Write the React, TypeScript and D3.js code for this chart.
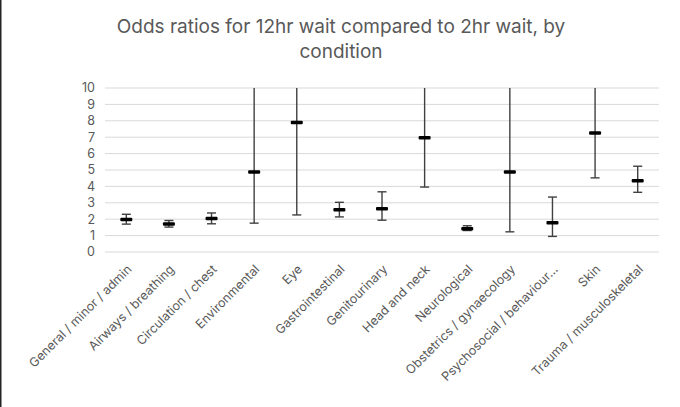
import React, { useEffect, useRef } from 'react';
import * as d3 from 'd3';

const categories = [
  'General / minor / admin',
  'Airways / breathing',
  'Circulation / chest',
  'Environmental',
  'Eye',
  'Gastrointestinal',
  'Genitourinary',
  'Head and neck',
  'Neurological',
  'Obstetrics / gynaecology',
  'Psychosocial / behaviour…',
  'Skin',
  'Trauma / musculoskeletal',
];

// point estimates and confidence bounds (upper bounds above 10 run off the axis)
const oddsRatio = [1.98, 1.7, 2.04, 4.88, 7.9, 2.58, 2.64, 6.97, 1.42, 4.88, 1.78, 7.25, 4.34];
const lowerCI = [1.7, 1.52, 1.72, 1.76, 2.26, 2.14, 1.94, 3.96, 1.31, 1.23, 0.95, 4.52, 3.64];
const upperCI = [2.3, 1.92, 2.38, 13.5, 27.0, 3.03, 3.67, 12.3, 1.6, 19.0, 3.35, 11.6, 5.23];

const yTicks = [0, 1, 2, 3, 4, 5, 6, 7, 8, 9, 10];

const titleLines = ['Odds ratios for 12hr wait compared to 2hr wait, by', 'condition'];

const W = 680;
const H = 407;

const OddsChart: React.FC = () => {
  const svgRef = useRef<SVGSVGElement>(null);

  useEffect(() => {
    if (!svgRef.current) return;
    const svg = d3.select(svgRef.current);
    svg.selectAll('*').remove();

    const margin = { top: 88, right: 21, bottom: 155, left: 105 };
    const width = W - margin.left - margin.right;
    const height = H - margin.top - margin.bottom;
    const font = 'Inter, "Open Sans", sans-serif';

    svg.append('rect').attr('width', W).attr('height', H).attr('fill', '#fff');
    svg.append('line')
      .attr('x1', 0.75).attr('x2', 0.75).attr('y1', 0).attr('y2', H)
      .attr('stroke', '#222').attr('stroke-width', 1.5);

    // title
    svg.append('text')
      .attr('x', 340)
      .attr('text-anchor', 'middle')
      .style('font-family', font)
      .style('font-size', '19px')
      .style('fill', '#595959')
      .selectAll('tspan')
      .data(titleLines)
      .enter()
      .append('tspan')
      .attr('x', 341)
      .attr('y', (_, i) => 33 + i * 25)
      .text(d => d);

    const g = svg.append('g').attr('transform', `translate(${margin.left}, ${margin.top})`);

    const xScale = d3.scaleBand().domain(categories).range([0, width]).padding(0);
    const yScale = d3.scaleLinear().domain([0, 10]).range([height, 0]);
    const yClamp = (v: number) => yScale(Math.min(10, Math.max(0, v)));

    // gridlines
    g.selectAll('.grid')
      .data(yTicks)
      .enter()
      .append('line')
      .attr('x1', 0)
      .attr('x2', width)
      .attr('y1', d => yScale(d))
      .attr('y2', d => yScale(d))
      .attr('stroke', '#d9d9d9')
      .attr('stroke-width', 1);

    // y tick labels
    g.selectAll('.ytick')
      .data(yTicks)
      .enter()
      .append('text')
      .attr('x', -10)
      .attr('y', d => yScale(d))
      .attr('dy', '0.35em')
      .attr('text-anchor', 'end')
      .style('font-family', font)
      .style('font-size', '12.5px')
      .style('fill', '#595959')
      .text(d => d);

    const cx = (i: number) => xScale(categories[i])! + xScale.bandwidth() / 2;

    const idx = d3.range(categories.length);

    // whiskers
    g.selectAll('.whisker')
      .data(idx)
      .enter()
      .append('line')
      .attr('x1', cx)
      .attr('x2', cx)
      .attr('y1', i => yClamp(upperCI[i]))
      .attr('y2', i => yClamp(lowerCI[i]))
      .attr('stroke', '#404040')
      .attr('stroke-width', 1.4);

    // caps (only where the bound is inside the axis)
    const capW = 4.5;
    const caps: { i: number; v: number }[] = [];
    idx.forEach(i => {
      caps.push({ i, v: lowerCI[i] });
      if (upperCI[i] <= 10) caps.push({ i, v: upperCI[i] });
    });
    g.selectAll('.cap')
      .data(caps)
      .enter()
      .append('line')
      .attr('x1', d => cx(d.i) - capW)
      .attr('x2', d => cx(d.i) + capW)
      .attr('y1', d => yScale(d.v))
      .attr('y2', d => yScale(d.v))
      .attr('stroke', '#404040')
      .attr('stroke-width', 1.4);

    // point markers
    g.selectAll('.marker')
      .data(idx)
      .enter()
      .append('rect')
      .attr('x', i => cx(i) - 6)
      .attr('y', i => yScale(oddsRatio[i]) - 1.75)
      .attr('width', 12)
      .attr('height', 3.5)
      .attr('rx', 1)
      .attr('fill', '#000');

    // x labels
    g.selectAll('.xlabel')
      .data(categories)
      .enter()
      .append('text')
      .attr('transform', d => `translate(${xScale(d)! + xScale.bandwidth() / 2 + 3}, ${height + 15}) rotate(-45)`)
      .attr('text-anchor', 'end')
      .attr('dy', '0.35em')
      .style('font-family', font)
      .style('font-size', '12.5px')
      .style('fill', '#595959')
      .text(d => d);
  }, []);

  return <svg ref={svgRef} width={W} height={H} style={{ position: 'absolute', left: 0, top: 0 }} />;
};

export default function App() {
  return <OddsChart />;
}
